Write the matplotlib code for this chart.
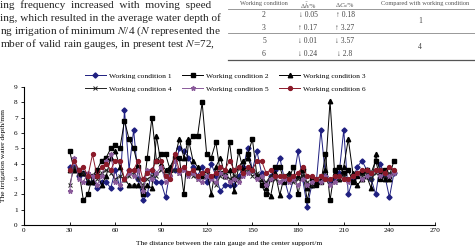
import matplotlib.pyplot as plt

plt.rcParams['font.family'] = ['Liberation Serif', 'DejaVu Serif']
plt.rcParams['mathtext.fontset'] = 'stix'

# distance of each rain gauge from the center support (m)
distance = list(range(30, 244, 3))

wc1 = [3.8, 3.8, 3.2, 3.4, 2.8, 2.8, 2.4, 2.8, 2.8, 2.4, 3.6, 2.4,
       7.5, 3.6, 6.2, 3.0, 1.6, 2.0, 3.6, 2.8, 2.8, 1.8, 3.6, 3.6,
       5.0, 4.8, 4.4, 3.8, 3.2, 3.8, 2.8, 4.0, 3.2, 2.2, 2.6, 2.6,
       2.6, 3.2, 3.8, 5.0, 3.6, 4.8, 3.4, 2.6, 3.2, 3.6, 4.4, 3.0,
       1.9, 3.0, 4.8, 3.0, 1.2, 2.6, 2.8, 6.2, 3.2, 2.8, 3.0, 3.4,
       6.2, 2.0, 3.0, 3.8, 4.2, 3.6, 3.0, 2.0, 4.0, 3.2, 1.8, 3.4]
wc2 = [4.8, 3.6, 3.6, 1.6, 2.0, 3.2, 3.6, 4.2, 4.4, 5.0, 5.2, 5.0,
       6.8, 5.6, 5.0, 3.8, 2.0, 4.4, 7.0, 4.2, 4.6, 4.6, 3.6, 4.4,
       4.4, 2.0, 5.4, 5.8, 5.8, 8.0, 4.6, 4.4, 5.4, 3.4, 3.2, 5.4,
       3.0, 4.8, 3.6, 4.6, 5.6, 3.2, 2.6, 2.0, 3.0, 3.8, 3.8, 2.8,
       3.0, 3.8, 2.0, 3.6, 1.6, 3.0, 2.6, 2.8, 4.6, 1.6, 3.6, 3.8,
       3.4, 3.6, 2.8, 3.2, 3.4, 3.6, 3.4, 4.2, 3.0, 3.6, 3.2, 4.2]
wc3 = [3.6, 3.6, 3.4, 3.4, 2.8, 2.8, 3.4, 2.6, 3.2, 4.4, 4.8, 3.8,
       3.0, 2.6, 2.6, 2.6, 2.4, 2.6, 2.4, 5.8, 4.0, 3.6, 3.8, 4.4,
       5.6, 4.4, 5.6, 4.2, 3.8, 3.2, 3.6, 2.0, 3.8, 4.4, 3.2, 3.6,
       2.2, 3.8, 4.2, 4.4, 3.6, 3.2, 3.0, 2.4, 1.9, 3.4, 1.95, 3.2,
       3.4, 3.0, 3.2, 3.8, 2.4, 2.6, 2.8, 3.0, 3.6, 8.1, 3.4, 3.0,
       3.8, 5.6, 3.4, 2.6, 3.0, 3.2, 2.4, 4.6, 3.4, 3.0, 3.0, 3.6]
wc4 = [2.6, 3.8, 3.6, 3.4, 3.0, 3.2, 3.0, 3.4, 3.6, 3.4, 3.0, 3.2,
       3.0, 3.2, 3.4, 3.0, 2.6, 3.0, 3.2, 3.2, 3.6, 3.2, 3.4, 3.6,
       3.4, 3.6, 3.4, 3.2, 3.0, 3.4, 3.2, 3.0, 2.6, 3.2, 3.4, 3.0,
       3.2, 3.0, 3.4, 3.6, 3.2, 3.4, 3.0, 2.8, 3.2, 3.0, 2.8, 3.0,
       3.2, 2.8, 3.0, 3.2, 2.8, 2.6, 3.0, 3.2, 3.0, 2.6, 2.8, 3.0,
       3.2, 3.0, 3.2, 3.4, 3.2, 3.4, 3.0, 3.4, 3.6, 3.2, 3.4, 3.4]
wc5 = [2.2, 4.4, 3.0, 2.8, 3.4, 3.2, 2.6, 3.2, 4.2, 4.6, 2.8, 2.6,
       3.0, 3.4, 3.2, 3.6, 2.2, 3.6, 3.0, 3.4, 3.8, 2.8, 3.2, 4.2,
       3.4, 3.6, 3.2, 3.4, 3.0, 2.8, 3.2, 3.0, 2.8, 3.4, 3.2, 2.8,
       3.0, 2.8, 3.2, 3.4, 3.6, 3.0, 3.2, 2.6, 3.0, 3.2, 2.8, 3.0,
       2.8, 3.0, 2.6, 3.0, 2.6, 2.8, 3.0, 2.8, 3.2, 2.6, 2.8, 3.2,
       3.0, 2.8, 3.2, 3.4, 3.0, 3.2, 3.4, 3.6, 3.2, 3.4, 3.2, 3.4]
wc6 = [3.6, 4.2, 3.6, 3.8, 3.2, 4.6, 3.2, 3.8, 4.0, 3.6, 4.2, 4.2,
       3.0, 3.6, 3.6, 4.2, 3.0, 3.4, 3.6, 4.2, 4.2, 3.2, 3.0, 4.6,
       3.6, 3.8, 3.4, 3.6, 3.2, 3.4, 3.6, 3.2, 3.4, 3.8, 3.6, 4.2,
       3.6, 3.8, 3.4, 3.8, 3.6, 4.2, 4.2, 3.4, 3.6, 3.2, 3.2, 3.2,
       3.0, 3.2, 3.4, 3.8, 3.2, 3.2, 3.0, 3.2, 3.0, 3.0, 3.2, 3.2,
       3.0, 3.0, 3.2, 3.4, 3.6, 3.6, 3.4, 3.6, 3.6, 3.4, 3.8, 3.6]

# table on the page above the chart
tbl_head = ["Working condition", "\u0394$\\bar{h}$/%", "\u0394$C_u$/%", "Compared with working condition"]
tbl_cond = ["2", "3", "5", "6"]
tbl_d1 = ["\u2193 0.05", "\u2191 0.17", "\u2193 0.01", "\u2193 0.24"]
tbl_d2 = ["\u2191 0.18", "\u2191 3.27", "\u2193 3.57", "\u2193 2.8"]
tbl_ref = ["1", "4"]

page_lines = ["ing  frequency  increased  with  moving  speed",
              "ing, which resulted in the average water depth of",
              "ng irrigation of minimum $N$/4 ($N$ represented the",
              "mber of valid rain gauges, in present test $N$=72,"]

fig = plt.figure(figsize=(4.75, 2.5), dpi=100)

def fy(py):
    return 1 - py / 250

def fx(px):
    return px / 475

# page text
for k, line in enumerate(page_lines):
    fig.text(0, fy(5.5 + 13 * k), line, fontsize=8.1, va='center', ha='left',
             color='#222222')

# table
tcol = [264, 308, 345, 425]
for j, h in enumerate(tbl_head):
    fig.text(fx(tcol[j]), fy(1.2), h, fontsize=4.6, ha='center', va='top', color='#555555')
for py in [8.8, 33]:
    fig.add_artist(plt.Line2D([fx(228), 1], [fy(py), fy(py)], color='#888888', lw=0.6))
fig.add_artist(plt.Line2D([fx(228), 1], [fy(60), fy(60)], color='#555555', lw=0.9))
for k in range(4):
    py = 15 + 12.5 * k + (1 if k > 1 else 0)
    fig.text(fx(tcol[0]), fy(py), tbl_cond[k], fontsize=5.5, ha='center', va='center', color='#444444')
    fig.text(fx(tcol[1]), fy(py), tbl_d1[k], fontsize=5.5, ha='center', va='center', color='#444444')
    fig.text(fx(tcol[2]), fy(py), tbl_d2[k], fontsize=5.5, ha='center', va='center', color='#444444')
fig.text(fx(420), fy(21), tbl_ref[0], fontsize=5.5, ha='center', va='center', color='#444444')
fig.text(fx(420), fy(47), tbl_ref[1], fontsize=5.5, ha='center', va='center', color='#444444')

# chart
ax = fig.add_axes([0.0505, 0.10, 0.8655, 0.552])
ax.plot(distance, wc1, color='#1f1f80', marker='D', ms=2.6, lw=0.7, label="Working condition 1")
ax.plot(distance, wc2, color='black', marker='s', ms=3.2, lw=0.7, label="Working condition 2")
ax.plot(distance, wc3, color='black', marker='^', ms=3.2, lw=0.7, label="Working condition 3")
ax.plot(distance, wc4, color='#222222', marker='x', ms=3.0, mew=0.7, lw=0.7, label="Working condition 4")
ax.plot(distance, wc5, color='#8a5a9a', marker='*', ms=3.4, lw=0.7, label="Working condition 5")
ax.plot(distance, wc6, color='#8b1a2a', marker='o', ms=2.8, lw=0.7, label="Working condition 6")

ax.set_xlim(0, 270)
ax.set_ylim(0, 9)
ax.set_xticks(range(0, 271, 30))
ax.set_yticks(range(0, 10))
ax.spines['top'].set_visible(False)
ax.spines['right'].set_visible(False)
for s in ['left', 'bottom']:
    ax.spines[s].set_linewidth(0.8)
ax.tick_params(axis='x', direction='in', length=2.5, width=0.6, labelsize=5.2, pad=2)
ax.tick_params(axis='y', direction='out', length=2.5, width=0.6, labelsize=5.2, pad=2)
ax.set_xlabel("The distance between the rain gauge and the center support/m", fontsize=5.4, labelpad=6)
ax.set_ylabel("The irrigation water depth/mm", fontsize=5.4, labelpad=6)

# legend filled row by row: 1 2 3 / 4 5 6
h, l = ax.get_legend_handles_labels()
order = [0, 3, 1, 4, 2, 5]
ax.legend([h[i] for i in order], [l[i] for i in order], ncol=3, loc='lower left',
          bbox_to_anchor=(0.148, 0.965), frameon=False, fontsize=5.4,
          handlelength=2.8, columnspacing=1.4, labelspacing=0.9,
          handletextpad=0.4, borderaxespad=0, borderpad=0)

fig.savefig("out.png", dpi=100)
